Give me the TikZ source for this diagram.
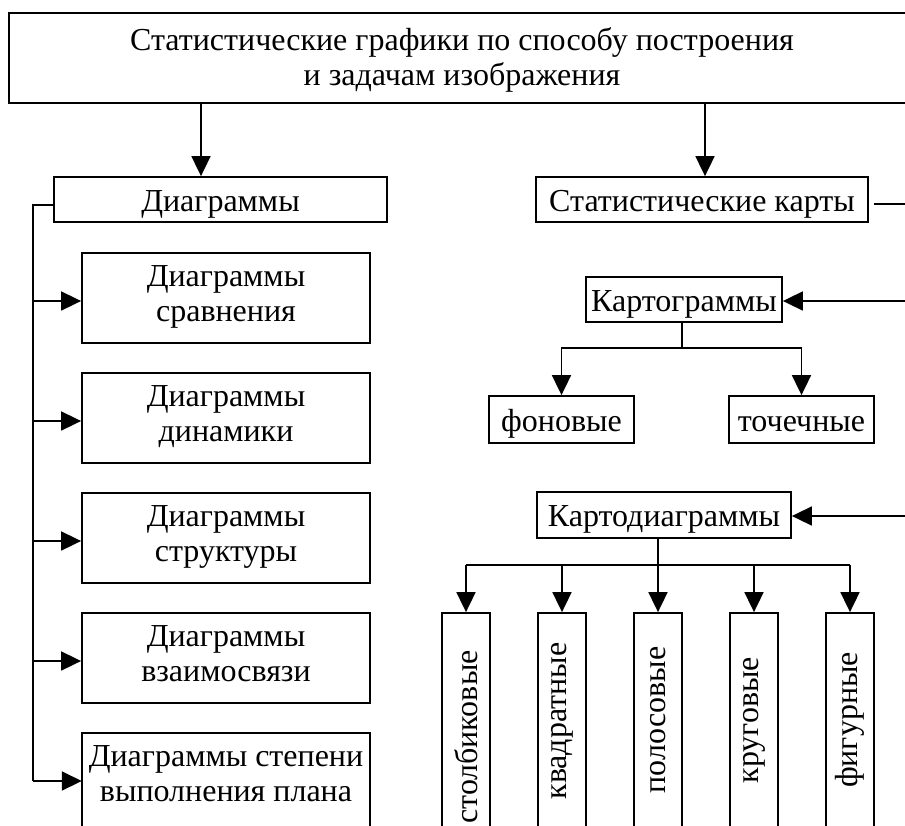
\documentclass[tikz,border=0pt]{standalone}
\usepackage{fontspec}
\setmainfont{Liberation Serif}
\usetikzlibrary{arrows.meta}
\newcommand{\dstrut}{\rule[-8pt]{0pt}{8pt}}
\begin{document}
\begin{tikzpicture}[x=1pt,y=-1pt,
  txt/.style={font=\fontsize{32}{35}\selectfont, inner sep=0pt, align=center},
  box/.style={txt, draw, line width=1.8pt, rectangle},
  one/.style={box, text height=26pt, text depth=3pt},
  ln/.style={line width=1.8pt},
  arr/.style={line width=1.8pt, -{Triangle[length=20pt,width=19pt]}}]
\useasboundingbox (0,0) rectangle (905,825);
\clip (0,0) rectangle (905,825);
% top
\node[box, minimum width=906pt, minimum height=90pt] (top) at (462,58)
  {\rule{0pt}{26pt}Статистические графики по способу построения\\и задачам изображения};
\node[one, minimum width=333pt, minimum height=45pt] (diag) at (220.5,199.5) {Диаграммы};
\node[one, minimum width=332pt, minimum height=45pt] (karty) at (702,199.5) {Статистические карты};
\draw[arr] (top.south -| 201,0) -- (diag.north -| 201,0);
\draw[arr] (top.south -| 705,0) -- (karty.north -| 705,0);
% left column
\node[box, minimum width=288pt, minimum height=90pt] (c1) at (226,298) {Диаграммы\\сравнения\dstrut};
\node[box, minimum width=288pt, minimum height=90pt] (c2) at (226,418) {Диаграммы\\динамики\dstrut};
\node[box, minimum width=288pt, minimum height=90pt] (c3) at (226,538) {Диаграммы\\структуры\dstrut};
\node[box, minimum width=288pt, minimum height=90pt] (c4) at (226,658) {Диаграммы\\взаимосвязи\dstrut};
\node[txt, minimum width=288pt, minimum height=90pt] (c5) at (226,778) {Диаграммы степени\\выполнения плана\dstrut};
\draw[ln] (c5.south west) ++(0,40) -- (c5.north west) -- (c5.north east) -- ++(0,130);
\coordinate (trunk) at (33,205);
\draw[ln] (diag.west |- trunk) -- (trunk) -- (33,781);
\draw[arr] (33,301) -- (c1.west |- 0,301);
\draw[arr] (33,421) -- (c2.west |- 0,421);
\draw[arr] (33,541) -- (c3.west |- 0,541);
\draw[arr] (33,661) -- (c4.west |- 0,661);
\draw[arr] (33,781) -- (c5.west |- 0,781);
% right column
\draw[ln] ([xshift=5pt]karty.east |- 0,204) -- (915,204);
\node[one, minimum width=196pt, minimum height=45pt] (kg) at (684,299.5) {Картограммы};
\draw[arr] (915,301) -- (kg.east |- 0,301);
\node[one, minimum width=145pt, minimum height=47pt] (fon) at (561.5,419.5) {фоновые};
\node[one, minimum width=145pt, minimum height=47pt] (toch) at (801.5,419.5) {точечные};
\coordinate (kgb) at (682,348);
\draw[ln] (kg.south -| kgb) -- (kgb);
\draw[arr] (kgb) -| (fon.north);
\draw[arr] (kgb) -| (toch.north);
\node[one, minimum width=254pt, minimum height=46pt] (kd) at (664,515) {Картодиаграммы};
\draw[arr] (915,516) -- (kd.east |- 0,516);
\coordinate (kdb) at (658,565);
\draw[ln] (kd.south -| kdb) -- (kdb);
\foreach \n/\x/\ty/\t in {v1/466/737/столбиковые, v2/562/721/квадратные, v3/658/720/полосовые, v4/754/720/круговые, v5/850/720/фигурные}{
  \node[draw, line width=1.8pt, minimum width=48pt, minimum height=214pt, inner sep=0pt] (\n) at (\x,720) {};
  \node[txt, rotate=90] (\n t) at (\x,\ty) {\t};
  \draw[arr] (\n.north |- kdb) -- (\n.north);
}
\draw[ln] (v1.north |- kdb) -- (v5.north |- kdb);
\end{tikzpicture}
\end{document}
